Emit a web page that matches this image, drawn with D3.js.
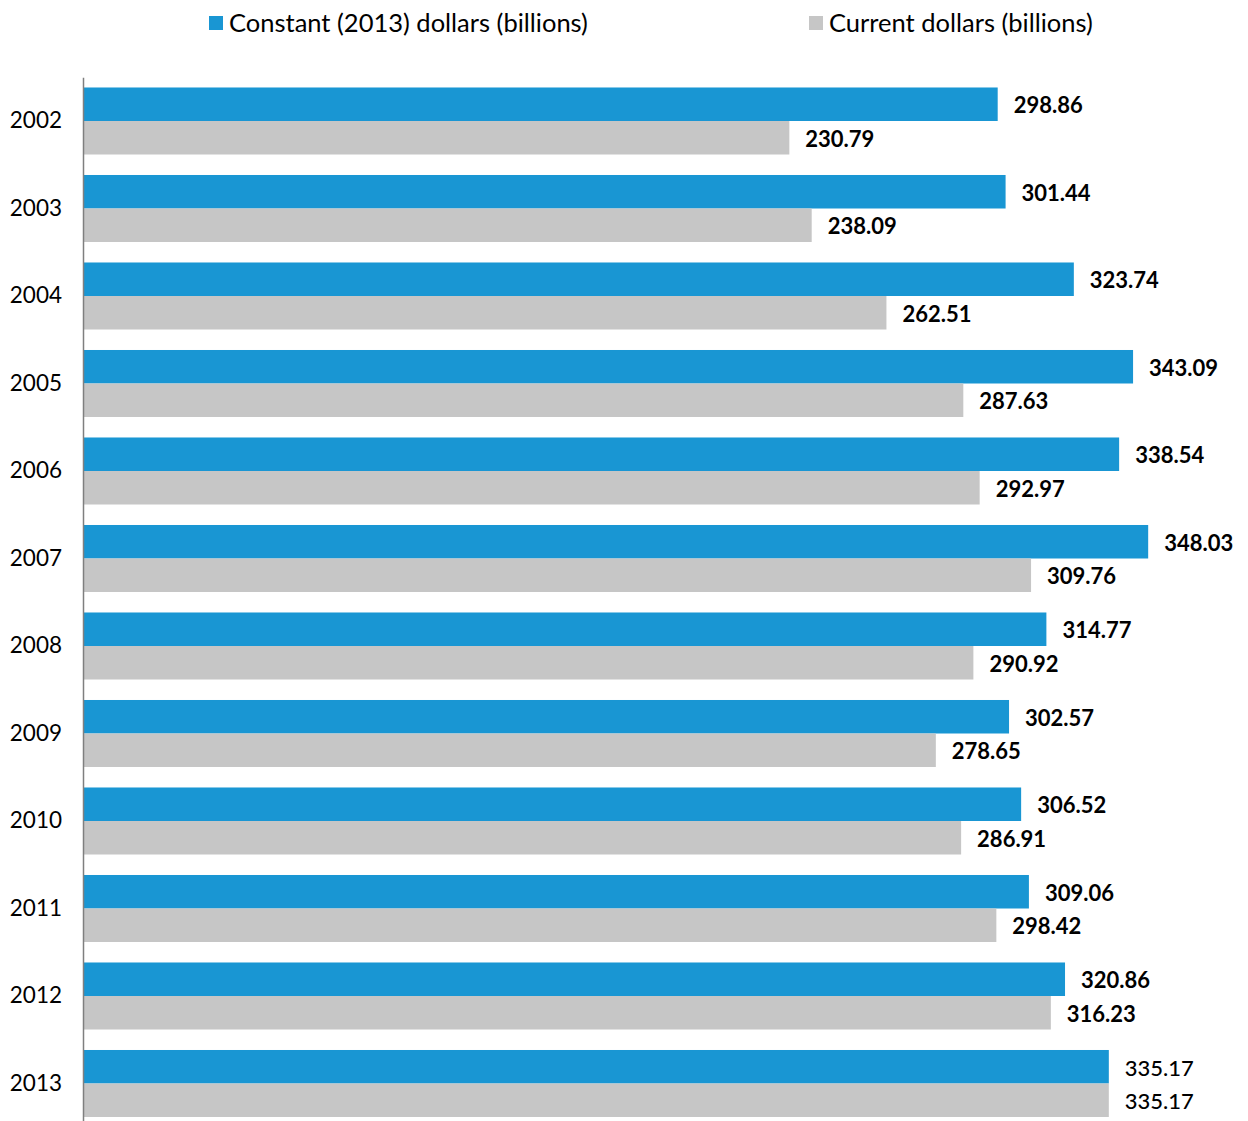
<!DOCTYPE html>
<html>
<head>
<meta charset="utf-8">
<script src="https://cdn.jsdelivr.net/npm/d3@7"></script>
<style>
  body { margin: 0; background: #fff; }
  text { font-family: Lato, "Open Sans", sans-serif; }
</style>
</head>
<body>
<div id="chart"></div>
<script>
var years = ["2002", "2003", "2004", "2005", "2006", "2007", "2008", "2009", "2010", "2011", "2012", "2013"]
var seriesNames = ["Constant (2013) dollars (billions)", "Current dollars (billions)"]
var constantDollars = [298.86, 301.44, 323.74, 343.09, 338.54, 348.03, 314.77, 302.57, 306.52, 309.06, 320.86, 335.17]
var currentDollars = [230.79, 238.09, 262.51, 287.63, 292.97, 309.76, 290.92, 278.65, 286.91, 298.42, 316.23, 335.17]
var colors = ["#1996d3", "#c6c6c6"]

var width = 1248,
    height = 1121,
    left = 83

var svg = d3.select("#chart")
    .append("svg")
    .attr("width", width)
    .attr("height", height)

var rows = years.map(function (y, i) {
    return { year: y, i: i, values: [constantDollars[i], currentDollars[i]] }
})

var yScale = d3.scaleBand()
    .domain(years)
    .range([77.25, 77.25 + 87.5 * 12])
    .paddingInner(0.234)
    .paddingOuter(0.117)

var subScale = d3.scaleBand()
    .domain([0, 1])
    .range([0, yScale.bandwidth()])

var xScale = d3.scaleLinear()
    .domain([0, 350])
    .range([left, left + 350 * 3.0606])

var groups = svg.selectAll("g.year")
    .data(rows)
    .enter()
    .append("g")
    .attr("class", "year")
    .attr("transform", function (d) { return "translate(0," + yScale(d.year) + ")" })

groups.selectAll("rect")
    .data(function (d) { return d.values.map(function (v, k) { return { v: v, k: k, i: d.i } }) })
    .enter()
    .append("rect")
    .attr("x", xScale(0))
    .attr("y", function (d) { return subScale(d.k) })
    .attr("width", function (d) { return xScale(d.v) - xScale(0) })
    .attr("height", subScale.bandwidth())
    .attr("fill", function (d) { return colors[d.k] })

groups.selectAll("text.val")
    .data(function (d) { return d.values.map(function (v, k) { return { v: v, k: k, i: d.i } }) })
    .enter()
    .append("text")
    .attr("class", "val")
    .attr("x", function (d) { return xScale(d.v) + 16 })
    .attr("y", function (d) { return subScale(d.k) + subScale.bandwidth() / 2 + 1 })
    .attr("dy", "0.36em")
    .attr("font-size", 22)
    .attr("font-weight", function (d) { return d.i == years.length - 1 ? "500" : "bold" })
    .attr("fill", "#000")
    .text(function (d) { return d.v.toFixed(2) })

// y axis
var yAxis = d3.axisLeft(yScale).tickSize(0).tickPadding(21)
var axisG = svg.append("g")
    .attr("transform", "translate(" + left + ",0)")
    .call(yAxis)
axisG.select(".domain").attr("stroke", "#7f7f7f").attr("stroke-width", 1.5)
axisG.selectAll(".tick text")
    .attr("font-size", 22.5)
    .attr("font-family", "Lato, sans-serif")
    .attr("fill", "#000")

// legend
var legendX = [209, 809]
var legend = svg.selectAll("g.legend")
    .data(seriesNames)
    .enter()
    .append("g")
    .attr("class", "legend")
    .attr("transform", function (d, i) { return "translate(" + legendX[i] + ",16)" })
legend.append("rect")
    .attr("width", 14)
    .attr("height", 14)
    .attr("fill", function (d, i) { return colors[i] })
legend.append("text")
    .attr("x", 20)
    .attr("y", 7)
    .attr("dy", "0.36em")
    .attr("font-size", 25.5)
    .attr("fill", "#000")
    .text(function (d) { return d })
</script>
</body>
</html>
